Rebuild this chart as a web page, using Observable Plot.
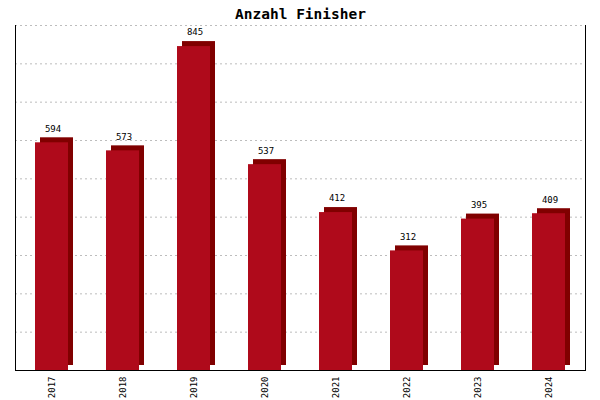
<!DOCTYPE html>
<html><head><meta charset="utf-8">
<script src="https://cdn.jsdelivr.net/npm/d3@7"></script>
<script src="https://cdn.jsdelivr.net/npm/@observablehq/plot@0.6"></script>
<style>body{margin:0;background:#fff}</style>
</head><body><div id="chart"></div>
<script>
const title = "Anzahl Finisher";
const years = ["2017","2018","2019","2020","2021","2022","2023","2024"];
const finishers = [594, 573, 845, 537, 412, 312, 395, 409];
const gridTicks = [100,200,300,400,500,600,700,800,900];

const data = years.map((y,i)=>({year:y, value:finishers[i]}));
const mono = "'DejaVu Sans Mono', 'Liberation Mono', monospace";

const chart = Plot.plot({
  width: 600, height: 400,
  marginLeft: 15, marginRight: 15, marginTop: 25, marginBottom: 30,
  style: {fontFamily: mono, background: "#fff"},
  x: {domain: years, paddingInner: 0.54, paddingOuter: 0.27, label: null},
  y: {domain: [0, 900], axis: null},
  marks: [
    Plot.ruleY(gridTicks, {stroke: "#bdbdbd", strokeDasharray: "2,3", strokeWidth: 1}),
    Plot.barY(data, {x: "year", y: "value", fill: "#800000", dx: 5, dy: -5}),
    Plot.barY(data, {x: "year", y: "value", fill: "#AF0A1B"}),
    Plot.text(data, {x: "year", y: "value", text: d => String(d.value), dy: -14, dx: 1, fontSize: 9, fill: "#000"}),
    Plot.axisX({tickRotate: -90, tickSize: 0, tickPadding: 6, fontSize: 9, label: null, fill: "#000"}),
    Plot.frame({anchor: "left", stroke: "#000"}),
    Plot.frame({anchor: "right", stroke: "#000"}),
    Plot.frame({anchor: "bottom", stroke: "#000"}),
    Plot.text([title], {frameAnchor: "top", dy: -17, fontSize: 14.5, fontWeight: "bold", fill: "#000"})
  ]
});
document.getElementById("chart").appendChild(chart);
</script></body></html>
